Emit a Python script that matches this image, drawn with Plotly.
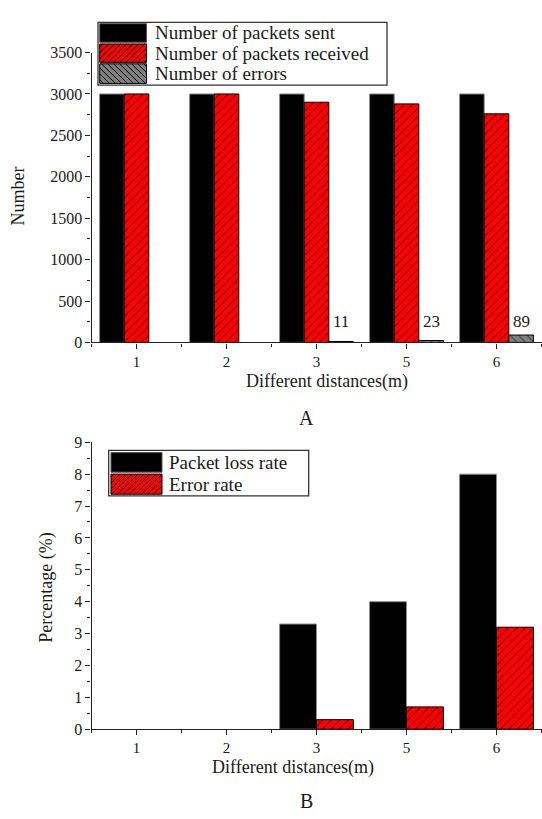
import plotly.graph_objects as go

# ---------------- data ----------------
distances = ["1", "2", "3", "5", "6"]
packets_sent = [3000, 3000, 3000, 3000, 3000]
packets_received = [3000, 3000, 2900, 2880, 2760]
num_errors = [0, 0, 11, 23, 89]
packet_loss_rate = [0, 0, 3.3, 4.0, 8.0]
error_rate = [0, 0, 0.3, 0.7, 3.2]

legend_a = ["Number of packets sent", "Number of packets received", "Number of errors"]
legend_b = ["Packet loss rate", "Error rate"]
x_title = "Different distances(m)"

# ---------------- style ----------------
W, H = 542, 819
FONT = "Liberation Serif, Times New Roman, serif"
TXT = "#1a1a1a"
AX = "#222222"
RED = "#ff0000"
GREY = "#808080"
BARGAP = 0.18
idx = list(range(len(distances)))


def px(x):
    return x / W


def py(y):
    return 1 - y / H


def lw(values, w=1):
    # no outline on zero-height bars
    return [w if v else 0 for v in values]


fig = go.Figure()

# ----- chart A -----
fig.add_bar(x=idx, y=packets_sent, name=legend_a[0], xaxis="x", yaxis="y",
            marker=dict(color="black", line=dict(color="#8c8c8c", width=lw(packets_sent))))
fig.add_bar(x=idx, y=packets_received, name=legend_a[1], xaxis="x", yaxis="y",
            marker=dict(color=RED, line=dict(color="black", width=lw(packets_received)),
                        pattern=dict(shape="/", fgcolor="black", bgcolor=RED,
                                     size=6, solidity=0.18, fillmode="overlay")))
fig.add_bar(x=idx, y=num_errors, name=legend_a[2], xaxis="x", yaxis="y",
            marker=dict(color=GREY, line=dict(color="black", width=lw(num_errors)),
                        pattern=dict(shape="\\", fgcolor="black", bgcolor=GREY,
                                     size=6, solidity=0.18, fillmode="overlay")))

# ----- chart B -----
fig.add_bar(x=idx, y=packet_loss_rate, name=legend_b[0], xaxis="x2", yaxis="y2",
            marker=dict(color="black", line=dict(color="#8c8c8c", width=lw(packet_loss_rate))))
fig.add_bar(x=idx, y=error_rate, name=legend_b[1], xaxis="x2", yaxis="y2",
            marker=dict(color=RED, line=dict(color="black", width=lw(error_rate)),
                        pattern=dict(shape="/", fgcolor="black", bgcolor=RED,
                                     size=6, solidity=0.18, fillmode="overlay")))

xdom = [px(91.5), px(541.5)]


def xaxis_cfg(anchor):
    return dict(domain=xdom, anchor=anchor, range=[-0.5, len(distances) - 0.5],
                tickmode="array", tickvals=idx, ticktext=distances,
                ticks="outside", ticklen=5, tickwidth=1.2, tickcolor=AX,
                showline=True, linecolor=AX, linewidth=1.3,
                showgrid=False, zeroline=False, fixedrange=True,
                tickfont=dict(family=FONT, size=15, color=TXT),
                minor=dict(tickmode="linear", tick0=0.5, dtick=1, ticks="outside",
                           ticklen=3, tickwidth=1, tickcolor=AX, showgrid=False))


def yaxis_cfg(anchor, dom, rng, dt):
    return dict(domain=dom, anchor=anchor, range=rng, dtick=dt, tick0=0,
                ticks="outside", ticklen=5, tickwidth=1.2, tickcolor=AX,
                showline=True, linecolor=AX, linewidth=1.3,
                showgrid=False, zeroline=False, fixedrange=True,
                tickfont=dict(family=FONT, size=16, color=TXT),
                minor=dict(dtick=dt / 2, ticks="outside", ticklen=3, tickwidth=1,
                           tickcolor=AX, showgrid=False))


fig.update_layout(
    width=W, height=H,
    margin=dict(l=0, r=0, t=0, b=0),
    paper_bgcolor="white", plot_bgcolor="white",
    barmode="group", bargap=BARGAP, bargroupgap=0,
    showlegend=False,
    font=dict(family=FONT, color=TXT),
    xaxis=xaxis_cfg("y"),
    yaxis=yaxis_cfg("x", [py(341.5), py(45.5)], [0, 3500], 500),
    xaxis2=xaxis_cfg("y2"),
    yaxis2=yaxis_cfg("x2", [py(736.5), py(443.5)], [0, 9], 1),
)

shapes = []
annotations = []


def hatch(x0, y0, x1, y1, direction, step=6.0):
    out = []
    if direction == "/":
        cmin, cmax = x0 + y0, x1 + y1
        c = cmin + step / 2
        while c < cmax:
            cand = [(x0, c - x0), (x1, c - x1), (c - y0, y0), (c - y1, y1)]
            pts = [(x, y) for x, y in cand
                   if x0 - 1e-6 <= x <= x1 + 1e-6 and y0 - 1e-6 <= y <= y1 + 1e-6]
            if len(pts) >= 2:
                pts.sort()
                out.append((pts[0], pts[-1]))
            c += step
    else:
        cmin, cmax = y0 - x1, y1 - x0
        c = cmin + step / 2
        while c < cmax:
            cand = [(x0, x0 + c), (x1, x1 + c), (y0 - c, y0), (y1 - c, y1)]
            pts = [(x, y) for x, y in cand
                   if x0 - 1e-6 <= x <= x1 + 1e-6 and y0 - 1e-6 <= y <= y1 + 1e-6]
            if len(pts) >= 2:
                pts.sort()
                out.append((pts[0], pts[-1]))
            c += step
    return [dict(type="line", xref="paper", yref="paper",
                 x0=px(a[0]), y0=py(a[1]), x1=px(b[0]), y1=py(b[1]),
                 line=dict(color="black", width=1), layer="above") for a, b in out]


def rect(x0, y0, x1, y1, fill, line_color, width=1.0):
    return dict(type="rect", xref="paper", yref="paper",
                x0=px(x0), y0=py(y1), x1=px(x1), y1=py(y0),
                fillcolor=fill, line=dict(color=line_color, width=width), layer="above")


def swatch(x0, y0, x1, y1, kind):
    if kind == "black":
        return [rect(x0, y0, x1, y1, "black", "#555555", 1)]
    if kind == "red":
        return [rect(x0, y0, x1, y1, RED, "black", 1)] + hatch(x0, y0, x1, y1, "/")
    return [rect(x0, y0, x1, y1, GREY, "black", 1)] + hatch(x0, y0, x1, y1, "\\")


def label(x, y, text, size=19, xanchor="left", angle=0):
    return dict(x=px(x), y=py(y), xref="paper", yref="paper", text=text,
                showarrow=False, xanchor=xanchor, yanchor="middle", textangle=angle,
                font=dict(family=FONT, size=size, color=TXT))


# legend A
shapes.append(rect(98, 14.7, 387, 78.7, "white", "#333333", 1.3))
rows_a = [(16, 35), (36.7, 55.5), (57, 77)]
kinds_a = ["black", "red", "grey"]
for (ya, yb), kind, name in zip(rows_a, kinds_a, legend_a):
    shapes += swatch(99.7, ya, 146.5, yb, kind)
    annotations.append(label(152.8, (ya + yb) / 2, name))

# legend B
shapes.append(rect(108.7, 451.7, 308.7, 498.3, "white", "#333333", 1.3))
rows_b = [(454, 474), (476, 496.5)]
kinds_b = ["black", "red"]
for (ya, yb), kind, name in zip(rows_b, kinds_b, legend_b):
    shapes += swatch(111, ya, 162, yb, kind)
    annotations.append(label(167.4, (ya + yb) / 2, name))

# error count labels above the grey bars
bar_w = (1 - BARGAP) / 3
for i, e in zip(idx, num_errors):
    if e > 0:
        annotations.append(dict(x=i + bar_w, xref="x", y=py(320.5), yref="paper",
                                text=str(e), showarrow=False, xanchor="center",
                                yanchor="middle",
                                font=dict(family=FONT, size=17, color=TXT)))

# axis titles and captions
annotations.append(label(18.5, 192, "Number", size=18, angle=-90, xanchor="center"))
annotations.append(label(327, 381, x_title, size=18, xanchor="center"))
annotations.append(label(306, 419, "A", size=20, xanchor="center"))
annotations.append(label(47, 592, "Percentage (%)", size=18, angle=-90, xanchor="center"))
annotations.append(label(293, 776, x_title, size=18, xanchor="center"))
annotations.append(label(306, 810, "B", size=20, xanchor="center"))

fig.update_layout(shapes=shapes, annotations=annotations)

fig.write_html(
    "out.html",
    config={"displayModeBar": False},
    post_script="document.body.style.margin='0px';document.body.style.overflow='hidden';",
)
